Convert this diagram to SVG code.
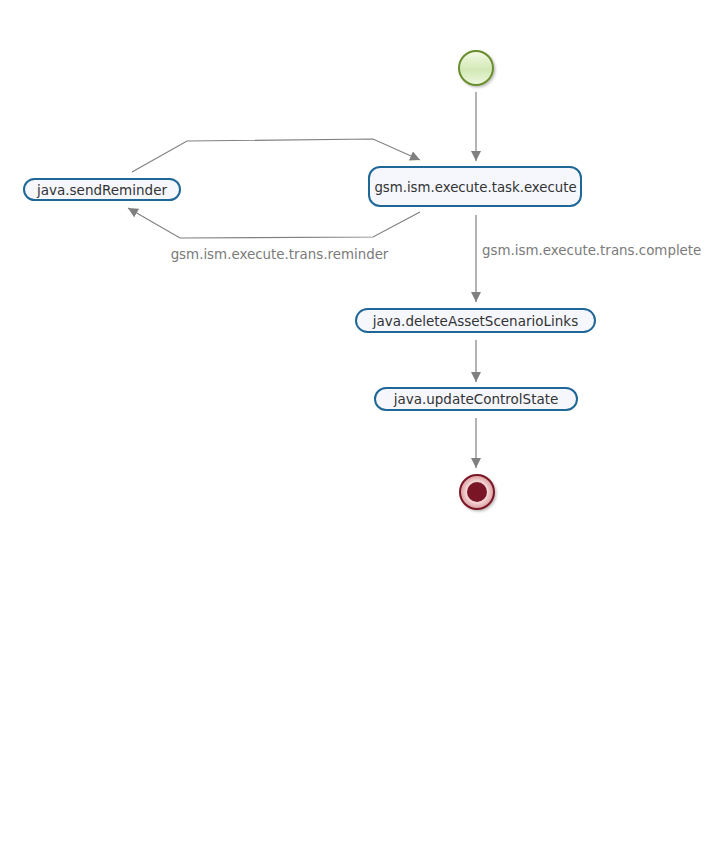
<svg xmlns="http://www.w3.org/2000/svg" width="722" height="864" viewBox="0 0 722 864">
  <style>
    .task { fill: #f5f7fd; stroke: #1f6797; stroke-width: 2; }
    .tlabel { font-family: "DejaVu Sans", "Open Sans", sans-serif; font-size: 13.5px; fill: #333333; text-anchor: middle; }
    .edge { fill: none; stroke: #808080; stroke-width: 1.2; }
    .elabel { font-family: "DejaVu Sans", "Open Sans", sans-serif; font-size: 13.4px; fill: #7a7a7a; }
  </style>
  <defs>
    <marker id="arrow" viewBox="0 0 10 10" refX="10" refY="5" markerWidth="10" markerHeight="10" markerUnits="userSpaceOnUse" orient="auto">
      <path d="M0,0 L10,5 L0,10 Z" fill="#808080"/>
    </marker>
    <linearGradient id="startFill" x1="0" y1="0" x2="0" y2="1">
      <stop offset="0" stop-color="#f4fbe9"/>
      <stop offset="0.55" stop-color="#d2e8b4"/>
      <stop offset="1" stop-color="#eef7e0"/>
    </linearGradient>
    <radialGradient id="endFill" cx="0.5" cy="0.5" r="0.5">
      <stop offset="0.6" stop-color="#f6dada"/>
      <stop offset="1" stop-color="#d99a9a"/>
    </radialGradient>
    <filter id="shadow" x="-30%" y="-30%" width="160%" height="160%">
      <feDropShadow dx="1.5" dy="1.5" stdDeviation="1.2" flood-color="#000" flood-opacity="0.25"/>
    </filter>
  </defs>

  <g id="connectors">
    <path class="edge" d="M476,92 L476,161" marker-end="url(#arrow)"/>
    <path class="edge" d="M132,172 L187,141 L373,139 L420,160" marker-end="url(#arrow)"/>
    <path class="edge" d="M420,212 L373,237 L180,238 L128,208" marker-end="url(#arrow)"/>
    <text class="elabel" x="279.5" y="259" text-anchor="middle">gsm.ism.execute.trans.reminder</text>
    <path class="edge" d="M476,215 L476,302" marker-end="url(#arrow)"/>
    <text class="elabel" x="482" y="255">gsm.ism.execute.trans.complete</text>
    <path class="edge" d="M476,340 L476,382" marker-end="url(#arrow)"/>
    <path class="edge" d="M476,418 L476,468" marker-end="url(#arrow)"/>
  </g>

  <g id="start">
    <circle cx="476" cy="68" r="17" fill="url(#startFill)" stroke="#6b8e2f" stroke-width="2" filter="url(#shadow)"/>
  </g>

  <g id="executeTask">
    <rect class="task" x="369" y="167" width="212" height="39" rx="11"/>
    <text class="tlabel" x="475.5" y="192" style="font-size:13.3px">gsm.ism.execute.task.execute</text>
  </g>

  <g id="sendReminder">
    <rect class="task" x="24" y="179" width="156" height="21" rx="10.5"/>
    <text class="tlabel" x="102" y="194.5">java.sendReminder</text>
  </g>

  <g id="deleteAssetScenarioLinks">
    <rect class="task" x="356" y="309" width="239" height="23" rx="11.5"/>
    <text class="tlabel" x="475.5" y="325.5">java.deleteAssetScenarioLinks</text>
  </g>

  <g id="updateControlState">
    <rect class="task" x="375" y="388" width="202" height="22" rx="11"/>
    <text class="tlabel" x="476" y="404">java.updateControlState</text>
  </g>

  <g id="end">
    <circle cx="477" cy="492" r="17" fill="url(#endFill)" stroke="#7a1526" stroke-width="2" filter="url(#shadow)"/>
    <circle cx="477" cy="492" r="10" fill="#7a1526"/>
  </g>
</svg>
